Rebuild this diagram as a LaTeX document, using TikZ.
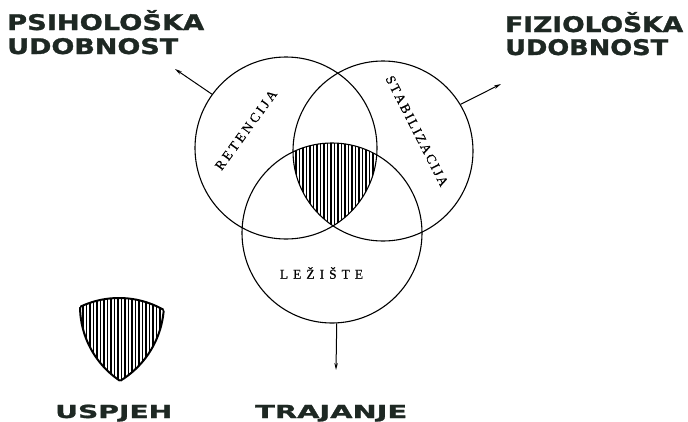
\documentclass[tikz,border=0pt]{standalone}
\usepackage{fontspec}
\newfontfamily\labelfont{DejaVu Sans}[BoldFeatures={FakeBold=1.2}]
\newfontfamily\circfont{Liberation Serif}[FakeBold=0.4]
\usetikzlibrary{arrows.meta}
\definecolor{ink}{RGB}{30,40,35}
\newsavebox\lblbox
\newcommand\biglabel[3]{%
  \sbox\lblbox{\labelfont\bfseries\fontsize{#2}{#2}\selectfont #3}%
  \pgfmathsetmacro\lblfx{#1/\the\wd\lblbox}%
  \scalebox{\lblfx}[1]{\usebox\lblbox}}
\newcommand\regionclip{%
  \clip (286,148) circle[radius=91pt];
  \clip (383,151) circle[radius=90pt];
  \clip (332,233) circle[radius=90pt];}
\begin{document}
\begin{tikzpicture}[x=1pt,y=-1pt,
  ring/.style={draw,circle,inner sep=0pt,line width=1.1pt},
  conn/.style={line width=1pt,-{Stealth[length=7pt,width=3.5pt]}},
  hatch/.style={line width=1.1pt},
  big/.style={anchor=base west,inner sep=0pt,text=ink},
  small/.style={inner sep=0pt,font=\circfont\fontsize{13.5}{13.5}\selectfont}]
\useasboundingbox (0,0) rectangle (688,421);
% circles
\node[ring,minimum size=182pt] (ret) at (286,148) {};
\node[ring,minimum size=180pt] (sta) at (383,151) {};
\node[ring,minimum size=180pt] (lez) at (332,233) {};
% hatched intersection
\begin{scope}
  \regionclip
  \foreach \x in {289,292.5,...,384} \draw[hatch] (\x,135) -- (\x,235);
\end{scope}
% legend shield
\begin{scope}[shift={(-213,155)}]
  \begin{scope}
    \regionclip
    \foreach \x in {289,292.5,...,384} \draw[hatch] (\x,135) -- (\x,235);
  \end{scope}
  \begin{scope}
    \clip (383,151) circle[radius=90pt];
    \clip (332,233) circle[radius=90pt];
    \draw[line width=2pt] (286,148) circle[radius=91pt];
  \end{scope}
  \begin{scope}
    \clip (286,148) circle[radius=91pt];
    \clip (332,233) circle[radius=90pt];
    \draw[line width=2pt] (383,151) circle[radius=90pt];
  \end{scope}
  \begin{scope}
    \clip (286,148) circle[radius=91pt];
    \clip (383,151) circle[radius=90pt];
    \draw[line width=2pt] (332,233) circle[radius=90pt];
  \end{scope}
\end{scope}
% connectors
\coordinate (tipL) at (175,69);
\coordinate (tipR) at (501,84);
\coordinate (tipB) at (336,370);
\draw[conn] (ret.144) -- (tipL);
\draw[conn] (sta.31) -- (tipR);
\draw[conn] (lez.-87.5) -- (tipB);
% circle labels
\node[small,rotate=54] (retl) at (246,130) {R\kern2.9pt E\kern2.9pt T\kern2.9pt E\kern2.9pt N\kern2.9pt C\kern2.9pt I\kern2.9pt J\kern2.9pt A};
\node[small,rotate=-63] (stal) at (417,131) {S\kern2pt T\kern2pt A\kern2pt B\kern2pt I\kern2pt L\kern2pt I\kern2pt Z\kern2pt A\kern2pt C\kern2pt I\kern2pt J\kern2pt A};
\node[small] (lezl) at (321.5,273) {L\kern5pt E\kern5pt Ž\kern5pt I\kern5pt Š\kern5pt T\kern5pt E};
% big labels
\node[big] (psi1) at (7,30) {\biglabel{197}{21.5}{PSIHOLOŠKA}};
\node[big] (psi2) at (7,54) {\biglabel{171}{21.5}{UDOBNOST}};
\node[big] (fiz1) at (505,32) {\biglabel{178}{21.5}{FIZIOLOŠKA}};
\node[big] (fiz2) at (505,55) {\biglabel{163}{21.5}{UDOBNOST}};
\node[big] (usp) at (55,418) {\biglabel{117}{18}{USPJEH}};
\node[big] (tra) at (255,418) {\biglabel{152}{18}{TRAJANJE}};
\end{tikzpicture}
\end{document}
